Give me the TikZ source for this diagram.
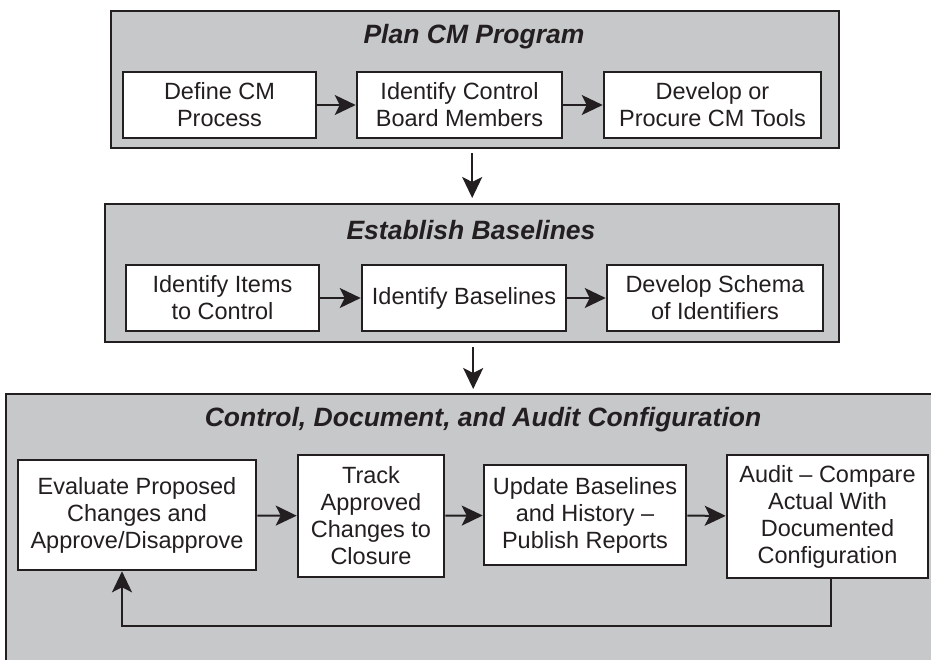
\documentclass[tikz,border=0pt]{standalone}
\usepackage{fontspec}
\setmainfont{Liberation Sans}
\usepackage{tikz}
\usetikzlibrary{arrows.meta,positioning}
\definecolor{panelgray}{HTML}{C7C8CA}
\definecolor{ink}{HTML}{231F20}

\begin{document}
\begin{tikzpicture}[x=1pt,y=-1pt,
  panel/.style={draw=ink,line width=2.4pt,fill=panelgray,inner sep=0pt},
  heading/.style={text=ink,font=\fontsize{26.5}{30}\selectfont\bfseries\itshape},
  stepbox/.style={draw=ink,line width=2.6pt,fill=white,text=ink,align=center,inner sep=0pt,
    font=\fontsize{23.5}{27}\selectfont},
  flow/.style={draw=ink,line width=2pt,-{Stealth[length=21pt,width=20pt,inset=5pt]}}]
\useasboundingbox (0,0) rectangle (931,659);
% panels
\node[panel,anchor=north west,minimum width=728,minimum height=137] (plan) at (110,10) {};
\node[panel,anchor=north west,minimum width=734,minimum height=138] (base) at (104,203) {};
\node[panel,anchor=north west,minimum width=945,minimum height=290] (ctrl) at (5,393) {};
% headings
\node[heading] (plantitle) at (474,37) {Plan CM Program};
\node[heading] (basetitle) at (471,230) {Establish Baselines};
\node[heading] (ctrltitle) at (483,420) {Control, Document, and Audit Configuration};
% plan
\node[stepbox,minimum width=193,minimum height=66] (define) at (219.5,105) {Define CM\\Process};
\node[stepbox,minimum width=205,minimum height=66] (board) at (459.5,105) {Identify Control\\Board Members};
\node[stepbox,minimum width=217,minimum height=66] (tools) at (712.5,105) {Develop or\\Procure CM Tools};
% baselines
\node[stepbox,minimum width=193,minimum height=66] (items) at (222.5,298) {Identify Items\\to Control};
\node[stepbox,minimum width=204,minimum height=66] (lines) at (464,298) {Identify Baselines};
\node[stepbox,minimum width=216,minimum height=66] (schema) at (715,298) {Develop Schema\\of Identifiers};
% control
\node[stepbox,minimum width=238,minimum height=110] (eval) at (137,515) {Evaluate Proposed\\Changes and\\Approve/Disapprove};
\node[stepbox,minimum width=146,minimum height=122] (track) at (371,516) {Track\\Approved\\Changes to\\Closure};
\node[stepbox,minimum width=202,minimum height=100] (update) at (585,515) {Update Baselines\\and History –\\Publish Reports};
\node[stepbox,minimum width=201,minimum height=123] (audit) at (827.5,516.5) {Audit – Compare\\Actual With\\Documented\\Configuration};
% connectors
\draw[flow] (define) -- (board);
\draw[flow] (board) -- (tools);
\draw[flow] (items) -- (lines);
\draw[flow] (lines) -- (schema);
\draw[flow] (eval) -- (track);
\draw[flow] (track) -- (update);
\draw[flow] (update) -- (audit);
\draw[flow,shorten <=4pt,shorten >=5pt] ([xshift=-3pt]plan.south) -- ([xshift=-3pt]plan.south |- base.north);
\draw[flow,shorten <=4pt,shorten >=4pt] ([xshift=1pt]base.south) -- ([xshift=1pt]base.south |- ctrl.north);
\draw[flow] ([xshift=3pt]audit.south) -- ++(0,47) -| ([xshift=-15pt]eval.south);
\end{tikzpicture}
\end{document}
